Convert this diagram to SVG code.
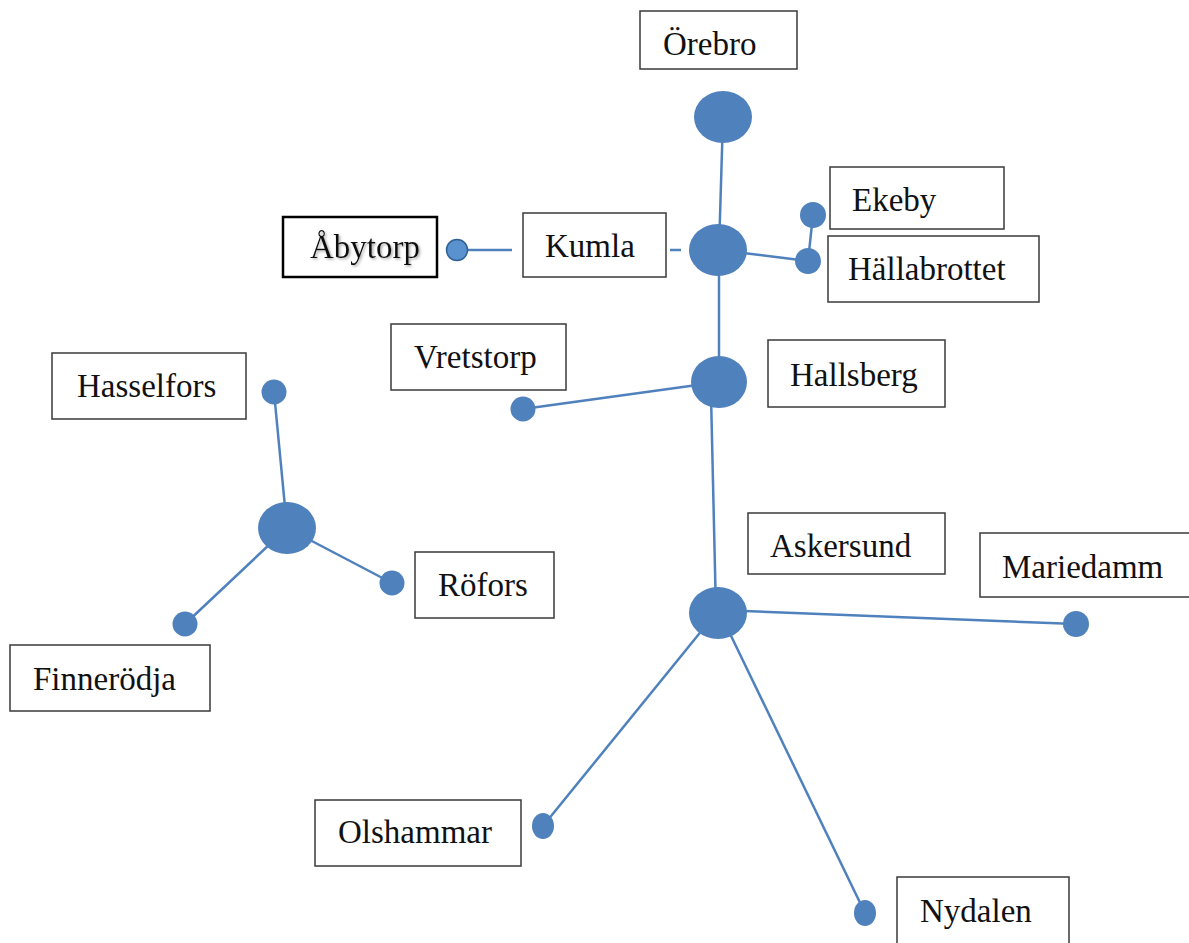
<svg xmlns="http://www.w3.org/2000/svg" width="1189" height="943" viewBox="0 0 1189 943">
<style>
.box{fill:#fff;stroke:#3a3a3a;stroke-width:1.5}
.lbl{font-family:"Liberation Serif","Times New Roman",serif;font-size:33px;fill:#111}
.big{fill:#4f81bd}
.sm{fill:#4f81bd}
.ln{stroke:#4f81bd;stroke-width:2.5;fill:none}
</style>
<defs>
<filter id="sh" x="-10%" y="-20%" width="130%" height="150%">
<feDropShadow dx="1.5" dy="1.5" stdDeviation="1" flood-color="#888" flood-opacity="0.7"/>
</filter>
</defs>
<rect width="1189" height="943" fill="#fff"/>
<g id="connectors">
<line class="ln" x1="723" y1="117" x2="719" y2="250"/>
<line class="ln" x1="719" y1="250" x2="719" y2="382"/>
<line class="ln" x1="719" y1="250" x2="808" y2="261"/>
<line class="ln" x1="813" y1="215" x2="808" y2="261"/>
<line class="ln" x1="719" y1="382" x2="523" y2="409"/>
<line class="ln" x1="711" y1="395" x2="716" y2="613"/>
<line class="ln" x1="718" y1="610" x2="1076" y2="624"/>
<line class="ln" x1="716" y1="613" x2="543" y2="826"/>
<line class="ln" x1="720" y1="613" x2="865" y2="913"/>
<line class="ln" x1="457" y1="250" x2="512" y2="250"/>
<line class="ln" x1="670" y1="250" x2="681" y2="250"/>
<line class="ln" x1="274" y1="392" x2="287" y2="528"/>
<line class="ln" x1="287" y1="528" x2="392" y2="583"/>
<line class="ln" x1="287" y1="528" x2="185" y2="624"/>
</g>
<g id="orebro">
<rect class="box" x="640" y="11" width="157" height="58"/>
<text class="lbl" x="663" y="55">Örebro</text>
<ellipse class="big" cx="723" cy="117" rx="29" ry="26"/>
</g>
<g id="kumla">
<rect class="box" x="523" y="213" width="143" height="64"/>
<text class="lbl" x="545" y="257">Kumla</text>
<ellipse class="big" cx="718" cy="250" rx="29" ry="26"/>
</g>
<g id="abytorp">
<rect x="283" y="217" width="154" height="60" fill="#fff" stroke="#000" stroke-width="2.5"/>
<text class="lbl" x="310" y="258" filter="url(#sh)">Åbytorp</text>
<circle cx="457" cy="250" r="10.5" fill="#5a92cf" stroke="#2f6094" stroke-width="1.5"/>
</g>
<g id="ekeby">
<rect class="box" x="830" y="167" width="174" height="62"/>
<text class="lbl" x="852" y="211">Ekeby</text>
<circle class="sm" cx="813" cy="215" r="13"/>
</g>
<g id="hallabrottet">
<rect class="box" x="828" y="236" width="211" height="66"/>
<text class="lbl" x="848" y="280">Hällabrottet</text>
<circle class="sm" cx="808" cy="261" r="13"/>
</g>
<g id="vretstorp">
<rect class="box" x="391" y="324" width="175" height="66"/>
<text class="lbl" x="414" y="368">Vretstorp</text>
<circle class="sm" cx="523" cy="409" r="12.5"/>
</g>
<g id="hallsberg">
<rect class="box" x="768" y="340" width="177" height="67"/>
<text class="lbl" x="790" y="386">Hallsberg</text>
<ellipse class="big" cx="719" cy="382" rx="28" ry="26"/>
</g>
<g id="hasselfors">
<rect class="box" x="52" y="353" width="194" height="66"/>
<text class="lbl" x="77" y="397">Hasselfors</text>
<circle class="sm" cx="274" cy="392" r="12.5"/>
</g>
<g id="hub-left">
<ellipse class="big" cx="287" cy="528" rx="29" ry="26"/>
</g>
<g id="rofors">
<rect class="box" x="415" y="552" width="139" height="66"/>
<text class="lbl" x="438" y="596">Röfors</text>
<circle class="sm" cx="392" cy="583" r="12.5"/>
</g>
<g id="finnerodja">
<rect class="box" x="10" y="645" width="200" height="66"/>
<text class="lbl" x="33" y="690">Finnerödja</text>
<circle class="sm" cx="185" cy="624" r="12.5"/>
</g>
<g id="askersund">
<rect class="box" x="748" y="513" width="197" height="61"/>
<text class="lbl" x="770" y="557">Askersund</text>
<ellipse class="big" cx="718" cy="613" rx="29" ry="26"/>
</g>
<g id="mariedamm">
<rect class="box" x="980" y="533" width="212" height="64"/>
<text class="lbl" x="1002" y="578">Mariedamm</text>
<circle class="sm" cx="1076" cy="624" r="13"/>
</g>
<g id="olshammar">
<rect class="box" x="315" y="800" width="206" height="66"/>
<text class="lbl" x="338" y="843">Olshammar</text>
<ellipse class="sm" cx="543" cy="826" rx="11" ry="13"/>
</g>
<g id="nydalen">
<rect class="box" x="897" y="877" width="172" height="70"/>
<text class="lbl" x="920" y="922">Nydalen</text>
<ellipse class="sm" cx="865" cy="913" rx="11" ry="13"/>
</g>
</svg>
